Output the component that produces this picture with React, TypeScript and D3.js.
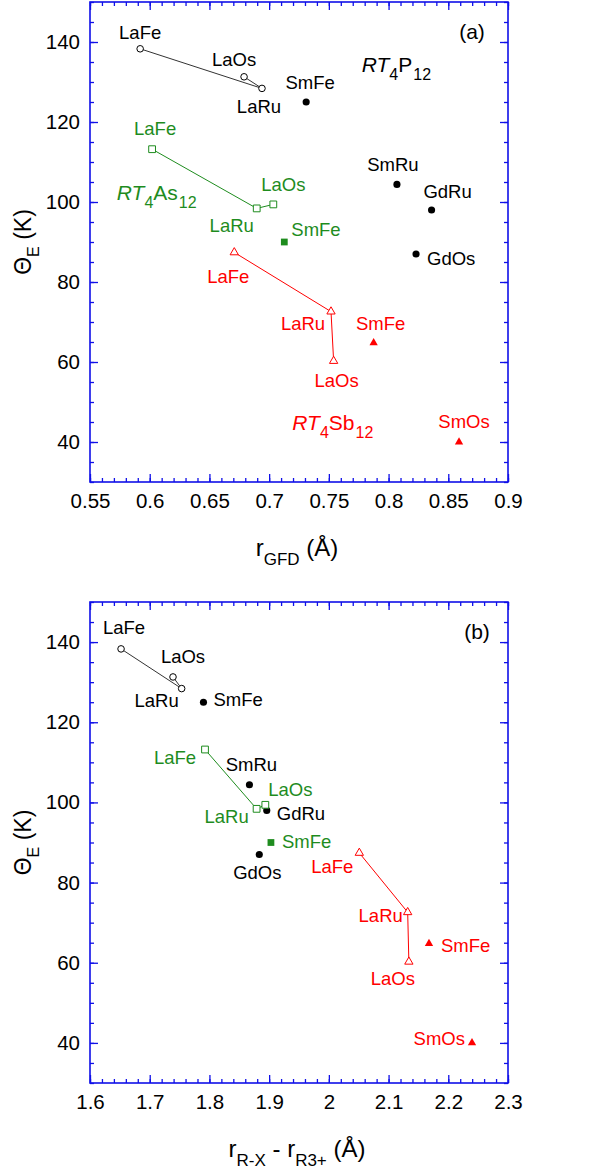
import React, { useEffect, useRef } from 'react';
import * as d3 from 'd3';

// Einstein temperature vs. cage "rattling" radius for filled skutterudites

const laNames = ['LaFe', 'LaRu', 'LaOs'];

// RT4P12 (black)
const p12LaTheta = [138.3, 128.4, 131.3];
const p12LaGfd = [0.592, 0.694, 0.679];
const p12LaRx = [1.652, 1.7535, 1.739];
const p12OtherNames = ['SmFe', 'SmRu', 'GdRu', 'GdOs'];
const p12OtherTheta = [125, 104.4, 98, 87];
const p12OtherGfd = [0.731, 0.807, 0.836, 0.823];
const p12OtherRx = [1.79, 1.867, 1.896, 1.8835];

// RT4As12 (green)
const as12LaTheta = [113.2, 98.4, 99.4];
const as12LaGfd = [0.602, 0.6896, 0.7035];
const as12LaRx = [1.7926, 1.879, 1.8936];
const as12OtherNames = ['SmFe'];
const as12OtherTheta = [90];
const as12OtherGfd = [0.7127];
const as12OtherRx = [1.903];

// RT4Sb12 (red)
const sb12LaTheta = [87.4, 72.6, 60.25];
const sb12LaGfd = [0.6708, 0.7518, 0.754];
const sb12LaRx = [2.051, 2.132, 2.134];
const sb12OtherNames = ['SmFe', 'SmOs'];
const sb12OtherTheta = [64.8, 40];
const sb12OtherGfd = [0.7875, 0.859];
const sb12OtherRx = [2.1677, 2.2397];

const yTicks = [40, 60, 80, 100, 120, 140];
const yTickLabels = ['40', '60', '80', '100', '120', '140'];
const xTicksA = [0.55, 0.6, 0.65, 0.7, 0.75, 0.8, 0.85, 0.9];
const xTickLabelsA = ['0.55', '0.6', '0.65', '0.7', '0.75', '0.8', '0.85', '0.9'];
const xTicksB = [1.6, 1.7, 1.8, 1.9, 2.0, 2.1, 2.2, 2.3];
const xTickLabelsB = ['1.6', '1.7', '1.8', '1.9', '2', '2.1', '2.2', '2.3'];

// label placement: [dx, dy, anchor] in px from the marker
const labelPosA = {
  'P-LaFe': [0, -10, 'middle'], 'P-LaRu': [-3, 25, 'middle'], 'P-LaOs': [-10, -11, 'middle'],
  'P-SmFe': [4, -13, 'middle'], 'P-SmRu': [-4, -13, 'middle'], 'P-GdRu': [16, -12, 'middle'], 'P-GdOs': [11, 11, 'start'],
  'As-LaFe': [3, -14, 'middle'], 'As-LaRu': [-25, 24, 'middle'], 'As-LaOs': [10, -13, 'middle'], 'As-SmFe': [7, -6, 'start'],
  'Sb-LaFe': [-6, 31, 'middle'], 'Sb-LaRu': [-28, 18, 'middle'], 'Sb-LaOs': [3, 26, 'middle'],
  'Sb-SmFe': [7, -13, 'middle'], 'Sb-SmOs': [5, -14, 'middle'],
};
const labelPosB = {
  'P-LaFe': [3, -15, 'middle'], 'P-LaRu': [-25, 18, 'middle'], 'P-LaOs': [10, -14, 'middle'],
  'P-SmFe': [10, 4, 'start'], 'P-SmRu': [2, -14, 'middle'], 'P-GdRu': [10, 10, 'start'], 'P-GdOs': [-2, 24, 'middle'],
  'As-LaFe': [-30, 14, 'middle'], 'As-LaRu': [-30, 14, 'middle'], 'As-LaOs': [25, -9, 'middle'], 'As-SmFe': [11, 5, 'start'],
  'Sb-LaFe': [-27, 20, 'middle'], 'Sb-LaRu': [-27, 10, 'middle'], 'Sb-LaOs': [-16, 23, 'middle'],
  'Sb-SmFe': [12, 8, 'start'], 'Sb-SmOs': [-7, 2, 'end'],
};

// compound name annotations (data coords, panel a only)
const compoundNames = [['P', '12'], ['As', '12'], ['Sb', '12']];
const compoundX = [0.7775, 0.5724, 0.7194];
const compoundY = [132.5, 100.6, 43];

const BLUE = '#1010e8';
const GREEN = '#1e8c1e';
const RED = '#ff0000';
const FONT = 'Liberation Sans, Arial, Helvetica, sans-serif';

const App = () => {
  const svgRef = useRef();

  useEffect(() => {
    document.body.style.margin = '0';
    const svg = d3.select(svgRef.current);
    svg.selectAll('*').remove();

    const left = 90, right = 508;

    const series = [
      { key: 'P', color: '#000', lineColor: '#333', shape: d3.symbolCircle, size: 34, fillSize: 40,
        la: [p12LaGfd, p12LaRx, p12LaTheta], other: [p12OtherNames, p12OtherGfd, p12OtherRx, p12OtherTheta] },
      { key: 'As', color: GREEN, lineColor: GREEN, shape: d3.symbolSquare, size: 46, fillSize: 46,
        la: [as12LaGfd, as12LaRx, as12LaTheta], other: [as12OtherNames, as12OtherGfd, as12OtherRx, as12OtherTheta] },
      { key: 'Sb', color: RED, lineColor: RED, shape: d3.symbolTriangle, size: 30, fillSize: 30,
        la: [sb12LaGfd, sb12LaRx, sb12LaTheta], other: [sb12OtherNames, sb12OtherGfd, sb12OtherRx, sb12OtherTheta] },
    ];

    const drawPanel = (opts) => {
      const { top, bottom, xDomain, xTicks, xLabels, xMinorStep, xi, labelPos, tag, tagX, titleParts } = opts;
      const x = d3.scaleLinear().domain(xDomain).range([left, right]);
      const y = d3.scaleLinear().domain([30, 150]).range([bottom, top]);
      const g = svg.append('g');

      const xMinor = d3.range(xDomain[0], xDomain[1] + 1e-9, xMinorStep);
      const yMinor = d3.range(30, 150 + 1e-9, 5);

      const axes = [
        [d3.axisBottom(x), bottom, 'x'], [d3.axisTop(x), top, 'x'],
        [d3.axisLeft(y), left, 'y'], [d3.axisRight(y), right, 'y'],
      ];
      axes.forEach(([ax, pos, dir], i) => {
        const minor = dir === 'x' ? xMinor : yMinor;
        const tr = dir === 'x' ? `translate(0,${pos})` : `translate(${pos},0)`;
        const gm = g.append('g').attr('transform', tr)
          .call(ax.tickValues(minor).tickSize(-4).tickFormat(() => ''));
        gm.select('.domain').remove();
        gm.selectAll('line').attr('stroke', BLUE).attr('stroke-width', 1.3);
        const major = dir === 'x' ? xTicks : yTicks;
        const labels = dir === 'x' ? xLabels : yTickLabels;
        const ga = g.append('g').attr('transform', tr)
          .call(ax.tickValues(major).tickSize(-8).tickPadding(i === 0 ? 11 : 10)
            .tickFormat((d, k) => (i === 0 || i === 2 ? labels[k] : '')));
        ga.select('.domain').remove();
        ga.selectAll('line').attr('stroke', BLUE).attr('stroke-width', 1.3);
        ga.selectAll('text').attr('font-family', FONT).attr('font-size', 20.5).attr('fill', '#000');
      });

      g.append('rect')
        .attr('x', left).attr('y', top)
        .attr('width', right - left).attr('height', bottom - top)
        .attr('fill', 'none').attr('stroke', BLUE).attr('stroke-width', 1.6);

      const label = (key, name, px, py, color) => {
        const p = labelPos[`${key}-${name}`];
        g.append('text')
          .attr('x', px + p[0]).attr('y', py + p[1])
          .attr('text-anchor', p[2])
          .attr('font-family', FONT).attr('font-size', 18.5)
          .attr('fill', color)
          .text(name);
      };

      series.forEach(s => {
        const xs = s.la[xi];
        const ys = s.la[2];
        const pts = xs.map((v, k) => [x(v), y(ys[k])]);
        g.append('path')
          .attr('d', d3.line()(pts))
          .attr('fill', 'none').attr('stroke', s.lineColor).attr('stroke-width', 1);
        pts.forEach((p, k) => {
          g.append('path')
            .attr('d', d3.symbol(s.shape, s.size)())
            .attr('transform', `translate(${p[0]},${p[1]})`)
            .attr('fill', '#fff').attr('stroke', s.color).attr('stroke-width', 1);
          label(s.key, laNames[k], p[0], p[1], s.color);
        });
        const [names, gfd, rx, th] = s.other;
        const ox = xi === 0 ? gfd : rx;
        names.forEach((n, k) => {
          const px = x(ox[k]), py = y(th[k]);
          g.append('path')
            .attr('d', d3.symbol(s.shape, s.fillSize)())
            .attr('transform', `translate(${px},${py})`)
            .attr('fill', s.color);
          label(s.key, n, px, py, s.color);
        });
      });

      // panel tag
      g.append('text')
        .attr('x', tagX).attr('y', top + 37)
        .attr('text-anchor', 'middle')
        .attr('font-family', FONT).attr('font-size', 21)
        .text(tag);

      // x title
      const xt = g.append('text')
        .attr('x', (left + right) / 2 - 2).attr('y', bottom + 74)
        .attr('text-anchor', 'middle')
        .attr('font-family', FONT).attr('font-size', 24);
      titleParts.forEach(([t, sub], k) => {
        xt.append('tspan').attr('font-size', sub ? 17 : 24).attr('dy', sub ? 9 : (k === 0 ? 0 : -9)).text(t);
      });

      // y title
      const yt = g.append('text')
        .attr('transform', `translate(31,${(top + bottom) / 2}) rotate(-90)`)
        .attr('text-anchor', 'middle')
        .attr('font-family', FONT).attr('font-size', 23);
      yt.append('tspan').text('Θ');
      yt.append('tspan').attr('font-size', 16).attr('dy', 8).text('E');
      yt.append('tspan').attr('dy', -8).text(' (K)');

      return { x, y, g };
    };

    const a = drawPanel({
      top: 2, bottom: 482, xDomain: [0.55, 0.9], xTicks: xTicksA, xLabels: xTickLabelsA,
      xMinorStep: 0.01, xi: 0, labelPos: labelPosA, tag: '(a)', tagX: 472,
      titleParts: [['r', false], ['GFD', true], [' (Å)', false]],
    });
    drawPanel({
      top: 602, bottom: 1083, xDomain: [1.6, 2.3], xTicks: xTicksB, xLabels: xTickLabelsB,
      xMinorStep: 0.02, xi: 1, labelPos: labelPosB, tag: '(b)', tagX: 477,
      titleParts: [['r', false], ['R-X', true], [' - r', false], ['R3+', true], [' (Å)', false]],
    });

    // compound annotations in panel (a)
    const colors = ['#000', GREEN, RED];
    compoundNames.forEach(([el, n], k) => {
      const t = a.g.append('text')
        .attr('x', a.x(compoundX[k])).attr('y', a.y(compoundY[k]))
        .attr('font-family', FONT).attr('font-size', 21).attr('fill', colors[k]);
      t.append('tspan').attr('font-style', 'italic').text('RT');
      t.append('tspan').attr('font-size', 16).attr('dy', 8).text('4');
      t.append('tspan').attr('dy', -8).text(el);
      t.append('tspan').attr('font-size', 16).attr('dy', 8).attr('dx', 1).text(n);
    });
  }, []);

  return <svg ref={svgRef} width={605} height={1171} style={{ display: 'block', background: '#fff' }} />;
};

export default App;
